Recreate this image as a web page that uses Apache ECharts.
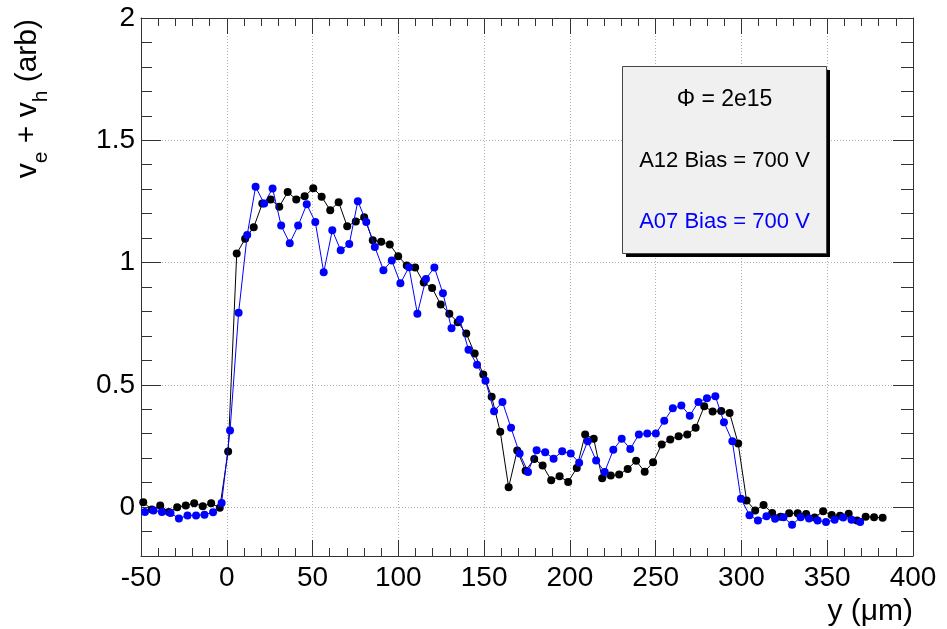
<!DOCTYPE html>
<html>
<head>
<meta charset="utf-8">
<script src="https://cdn.jsdelivr.net/npm/echarts@6/dist/echarts.min.js"></script>
<style>
  html, body { margin: 0; padding: 0; background: #fff; }
  #chart { width: 947px; height: 629px; }
</style>
</head>
<body>
<div id="chart"></div>
<script>
// ---- Data ----
const xA12 = [-48.7,-43.7,-38.8,-33.8,-28.9,-23.9,-19.0,-14.0,-9.1,-4.1,
  0.8,5.8,10.7,15.7,20.7,25.6,30.6,35.5,40.5,45.4,
  50.4,55.3,60.3,65.2,70.2,75.2,80.1,85.1,90.0,95.0,
  99.9,104.9,109.8,114.8,119.7,124.7,129.7,134.6,139.6,144.5,
  149.5,154.4,159.4,164.3,169.3,174.2,179.2,184.1,189.1,194.0,
  199.0,204.0,208.9,213.9,218.8,223.8,228.7,233.7,238.6,243.6,
  248.5,253.5,258.5,263.4,268.4,273.3,278.3,283.2,288.2,293.1,
  298.1,303.0,308.0,312.9,317.9,322.8,327.8,332.8,337.7,342.7,
  347.6,352.6,357.5,362.5,367.4,372.4,377.3,382.3];
const yA12 = [0.020,-0.010,0.007,-0.020,-0.001,0.007,0.016,0.003,0.016,-0.003,
  0.227,1.037,1.097,1.144,1.241,1.258,1.228,1.288,1.258,1.271,
  1.304,1.269,1.214,1.247,1.148,1.168,1.185,1.091,1.085,1.074,
  1.026,0.988,0.980,0.918,0.896,0.828,0.791,0.756,0.710,0.628,
  0.542,0.451,0.308,0.081,0.231,0.149,0.197,0.170,0.110,0.126,
  0.103,0.160,0.297,0.279,0.118,0.129,0.133,0.156,0.189,0.145,
  0.183,0.256,0.276,0.290,0.297,0.324,0.412,0.391,0.393,0.385,
  0.260,0.027,-0.014,0.009,-0.024,-0.039,-0.025,-0.025,-0.028,-0.043,
  -0.017,-0.032,-0.035,-0.027,-0.055,-0.039,-0.042,-0.044];
const xA07 = [-47.7,-42.7,-37.8,-32.8,-27.9,-22.9,-17.9,-13.0,-8.0,-3.0,
  1.9,6.9,11.9,16.8,21.8,26.7,31.7,36.7,41.6,46.6,
  51.6,56.5,61.5,66.4,71.4,76.4,81.3,86.3,91.3,96.2,
  101.2,106.2,111.1,116.1,121.0,126.0,131.0,135.9,140.9,145.9,
  150.8,155.8,160.7,165.7,170.7,175.6,180.6,185.6,190.5,195.5,
  200.5,205.4,210.4,215.3,220.3,225.3,230.2,235.2,240.2,245.1,
  250.1,255.0,260.0,265.0,269.9,274.9,279.9,284.8,289.8,294.7,
  299.7,304.7,309.6,314.6,319.6,324.5,329.5,334.5,339.4,344.4,
  349.3,354.3,359.3,364.2,369.2];
const yA07 = [-0.020,-0.014,-0.020,-0.024,-0.047,-0.034,-0.034,-0.031,-0.021,0.017,
  0.313,0.795,1.113,1.310,1.241,1.303,1.151,1.079,1.151,1.238,
  1.166,0.960,1.132,1.050,1.076,1.251,1.166,1.064,0.969,1.008,
  0.915,0.981,0.791,0.933,0.980,0.874,0.731,0.767,0.643,0.582,
  0.517,0.392,0.430,0.324,0.219,0.144,0.232,0.224,0.198,0.228,
  0.219,0.181,0.269,0.191,0.144,0.234,0.279,0.238,0.297,0.301,
  0.301,0.353,0.404,0.415,0.374,0.430,0.445,0.453,0.347,0.269,
  0.034,-0.033,-0.055,-0.037,-0.048,-0.042,-0.072,-0.042,-0.047,-0.055,
  -0.061,-0.052,-0.043,-0.052,-0.061];
const seriesNames = ['A12 Bias = 700 V', 'A07 Bias = 700 V'];
const fluenceText = 'Φ = 2e15';
const xTitle = 'y (μm)';

// ---- Chart ----
const font = "'Liberation Sans', Arial, Helvetica, sans-serif";
const axisColor = '#333';
const gridStyle = { color: '#b0b0b0', type: [1, 2], width: 1 };
const chart = echarts.init(document.getElementById('chart'), null, { renderer: 'canvas' });

const baseX = {
  type: 'value', min: -50, max: 400, interval: 50,
  axisLine: { show: true, onZero: false, lineStyle: { color: axisColor, width: 1 } },
  axisTick: { show: true, inside: true, length: 16, lineStyle: { color: axisColor } },
  minorTick: { show: true, splitNumber: 5, length: 8, lineStyle: { color: axisColor } },
  minorSplitLine: { show: false }
};
const baseYMajor = {
  type: 'value', min: -0.2, max: 2, splitNumber: 5,
  axisLine: { show: true, onZero: false, lineStyle: { color: axisColor, width: 1 } },
  axisTick: { show: true, inside: true, length: 20, lineStyle: { color: axisColor } }
};
const baseYMinor = {
  type: 'value', min: -0.2, max: 2, interval: 0.1,
  axisLine: { show: false, onZero: false },
  axisTick: { show: true, inside: true, length: 11, lineStyle: { color: axisColor } },
  axisLabel: { show: false },
  splitLine: { show: false }
};

const option = {
  animation: false,
  backgroundColor: '#fff',
  grid: { left: 141, right: 34, top: 18, bottom: 73, containLabel: false },
  xAxis: [
    Object.assign({}, baseX, {
      position: 'bottom',
      axisLabel: { fontSize: 28, color: '#000', margin: 8, fontFamily: font },
      splitLine: { show: true, lineStyle: gridStyle }
    }),
    Object.assign({}, baseX, {
      position: 'top',
      axisLabel: { show: false },
      splitLine: { show: false }
    })
  ],
  yAxis: [
    Object.assign({}, baseYMajor, {
      position: 'left',
      axisLabel: { fontSize: 28, color: '#000', margin: 6, fontFamily: font, showMinLabel: false },
      splitLine: { show: true, lineStyle: gridStyle }
    }),
    Object.assign({}, baseYMinor, { position: 'left' }),
    Object.assign({}, baseYMajor, {
      position: 'right',
      axisLabel: { show: false },
      splitLine: { show: false }
    }),
    Object.assign({}, baseYMinor, { position: 'right', axisTick: { show: true, inside: true, length: 12, lineStyle: { color: axisColor } } })
  ],
  series: [
    {
      name: seriesNames[0], type: 'line', xAxisIndex: 0, yAxisIndex: 0,
      data: xA12.map((x, i) => [x, yA12[i]]),
      symbol: 'circle', symbolSize: 8, showSymbol: true,
      itemStyle: { color: '#000' },
      lineStyle: { color: '#000', width: 1 },
      z: 3
    },
    {
      name: seriesNames[1], type: 'line', xAxisIndex: 0, yAxisIndex: 0,
      data: xA07.map((x, i) => [x, yA07[i]]),
      symbol: 'circle', symbolSize: 8, showSymbol: true,
      itemStyle: { color: '#0000ff' },
      lineStyle: { color: '#0000ff', width: 1 },
      z: 4
    }
  ],
  graphic: [
    { type: 'rect', z: 100, shape: { x: 626, y: 70, width: 204, height: 187 }, style: { fill: '#000' } },
    { type: 'rect', z: 101, shape: { x: 622.5, y: 66.5, width: 204, height: 187 }, style: { fill: '#f0f0f0', stroke: '#444', lineWidth: 1 } },
    { type: 'text', z: 102, x: 724.5, y: 100, style: { text: fluenceText, fontSize: 23, fontFamily: font, fill: '#000', align: 'center', verticalAlign: 'middle' } },
    { type: 'text', z: 102, x: 724.5, y: 161, style: { text: seriesNames[0], fontSize: 22, fontFamily: font, fill: '#000', align: 'center', verticalAlign: 'middle' } },
    { type: 'text', z: 102, x: 724.5, y: 222, style: { text: seriesNames[1], fontSize: 22, fontFamily: font, fill: '#0000ff', align: 'center', verticalAlign: 'middle' } },
    { type: 'text', z: 102, x: 913, y: 612, style: { text: xTitle, fontSize: 30, fontFamily: font, fill: '#000', align: 'right', verticalAlign: 'middle' } },
    { type: 'text', z: 102, x: 28, y: 19, rotation: Math.PI / 2,
      style: {
        text: '{m|v}{s|e}{m| + v}{s|h}{m| (arb)}',
        align: 'right', verticalAlign: 'middle',
        rich: {
          m: { fontSize: 30, lineHeight: 47, fontFamily: font, fill: '#000' },
          s: { fontSize: 21, lineHeight: 21, verticalAlign: 'bottom', fontFamily: font, fill: '#000' }
        }
      } }
  ]
};
chart.setOption(option);
</script>
</body>
</html>
